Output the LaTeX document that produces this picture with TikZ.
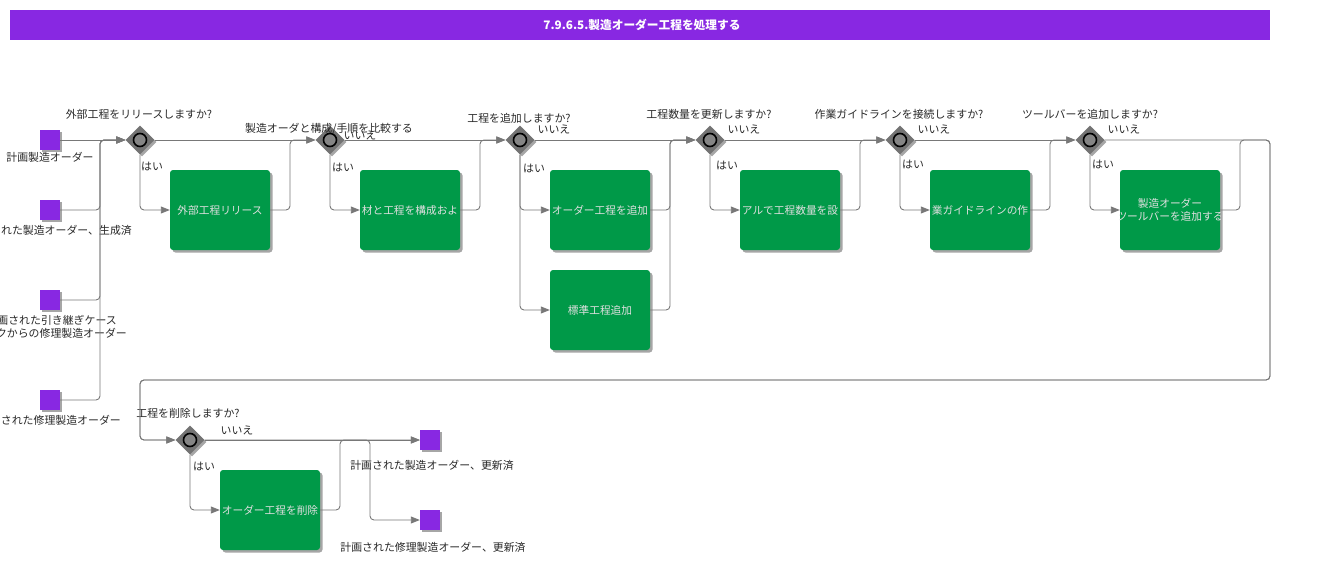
\documentclass[tikz,border=0pt]{standalone}
\usepackage{fontspec}
\setmainfont{Noto Sans CJK JP}
\usetikzlibrary{shapes.geometric,arrows.meta,shadows}
\definecolor{bpurple}{RGB}{136,40,226}
\definecolor{bgreen}{RGB}{0,153,72}
\definecolor{lgray}{RGB}{120,120,120}
\definecolor{dgray}{RGB}{115,115,115}
\definecolor{txt}{RGB}{40,40,40}
\begin{document}
\begin{tikzpicture}[x=1pt,y=-1pt,
  lbl/.style={font=\fontsize{10.9}{12.5}\selectfont, text=txt, inner sep=0pt},
  sq/.style={rectangle, fill=bpurple, minimum size=20pt, inner sep=0pt,
     drop shadow={shadow xshift=2pt, shadow yshift=-2pt, opacity=0.35, fill=black}},
  gw/.style={diamond, fill=dgray, minimum size=29pt, inner sep=0pt,
     drop shadow={shadow xshift=2pt, shadow yshift=-2pt, opacity=0.35, fill=black}},
  gwc/.style={circle, draw=black, line width=1.6pt, fill=lgray!90!white, minimum size=13pt, inner sep=0pt},
  task/.style={rectangle, rounded corners=3pt, fill=bgreen, minimum width=100pt, minimum height=80pt, inner sep=0pt,
     drop shadow={shadow xshift=2.5pt, shadow yshift=-2.5pt, opacity=0.35, fill=black}},
  tasktext/.style={font=\fontsize{10.7}{13}\selectfont, text=white!88!black, inner sep=0pt, align=center},
  conn/.style={draw=lgray, line width=0.9pt, rounded corners=4pt},
  flow/.style={conn, -{Triangle[length=9pt,width=7pt]}, color=lgray},
]
\useasboundingbox (0,0) rectangle (1320,565);

% title
\node[rectangle, fill=bpurple, minimum width=1260pt, minimum height=30pt, inner sep=0pt] (title) at (640,25) {};
\node[font=\fontsize{11.7}{13}\selectfont\bfseries, text=white, inner sep=0pt] (titletext) at (642,25) {7.9.6.5.製造オーダー工程を処理する};

% start events
\node[sq] (s1) at (50,140) {};
\node[sq] (s2) at (50,210) {};
\node[sq] (s3) at (50,300) {};
\node[sq] (s4) at (50,400) {};
\node[lbl] (l1) at (50,157) {計画製造オーダー};
\node[lbl, anchor=east] (l2) at (132,230) {れた製造オーダー、生成済};
\node[lbl, anchor=east] (l3a) at (117,320) {画された引き継ぎケース};
\node[lbl, anchor=east] (l3b) at (127,333) {クからの修理製造オーダー};
\node[lbl, anchor=east] (l4) at (121,420) {された修理製造オーダー};

% gateways
\foreach \n/\x/\y in {g1/140/140, g2/330/140, g3/520/140, g4/710/140, g5/900/140, g6/1090/140, g7/190/440}{
  \node[gw] (\n) at (\x,\y) {};
  \node[gwc] (\n c) at (\x,\y) {};
}

% gateway labels
\node[lbl] (q1) at (139,114) {外部工程をリリースしますか?};
\node[lbl] (q3) at (519,118) {工程を追加しますか?};
\node[lbl] (q4) at (709,114) {工程数量を更新しますか?};
\node[lbl] (q5) at (899,114) {作業ガイドラインを接続しますか?};
\node[lbl] (q6) at (1090,114) {ツールバーを追加しますか?};
\node[lbl] (q7) at (188,413) {工程を削除しますか?};

\node[lbl] (n2) at (360,135) {いいえ};
\node[lbl] (q2) at (329,129) {製造オーダと構成/手順を比較する};
\node[lbl] (n3) at (554,129) {いいえ};
\node[lbl] (n4) at (744,129) {いいえ};
\node[lbl] (n5) at (934,129) {いいえ};
\node[lbl] (n6) at (1124,129) {いいえ};
\node[lbl] (n7) at (237,430) {いいえ};

\node[lbl] (y1) at (152,166) {はい};
\node[lbl] (y2) at (343,167) {はい};
\node[lbl] (y3) at (534,168) {はい};
\node[lbl] (y4) at (727,165) {はい};
\node[lbl] (y5) at (913,164) {はい};
\node[lbl] (y6) at (1103,164) {はい};
\node[lbl] (y7) at (204,466) {はい};

% tasks
\node[task] (b1) at (220,210) {};
\node[task] (b2) at (410,210) {};
\node[task] (b3a) at (600,210) {};
\node[task] (b3b) at (600,310) {};
\node[task] (b4) at (790,210) {};
\node[task] (b5) at (980,210) {};
\node[task] (b6) at (1170,210) {};
\node[task] (b7) at (270,510) {};
\node[tasktext] (t1) at (b1) {外部工程リリース};
\node[tasktext] (t2) at (b2) {材と工程を構成およ};
\node[tasktext] (t3a) at (b3a) {オーダー工程を追加};
\node[tasktext] (t3b) at (b3b) {標準工程追加};
\node[tasktext] (t4) at (b4) {アルで工程数量を設};
\node[tasktext] (t5) at (b5) {業ガイドラインの作};
\begin{scope}
  \clip (b6.north west) rectangle (b6.south east);
  \node[tasktext] (t6) at (b6) {製造オーダー\\ツールバーを追加する};
\end{scope}
\node[tasktext] (t7) at (b7) {オーダー工程を削除};

% end events
\node[sq] (e1) at (430,440) {};
\node[sq] (e2) at (430,520) {};
\node[lbl] (le1) at (432,465) {計画された製造オーダー、更新済};
\node[lbl] (le2) at (433,547) {計画された修理製造オーダー、更新済};

% junction coordinates
\coordinate (j1) at (100,140);
\coordinate (j2) at (290,140);
\coordinate (j3) at (480,140);
\coordinate (j4) at (670,140);
\coordinate (j5) at (860,140);
\coordinate (j6) at (1050,140);
\coordinate (j7) at (1240,140);
\coordinate (c1) at (1270,140);
\coordinate (c2) at (1270,380);
\coordinate (c3) at (140,380);
\coordinate (j8) at (340,440);
\coordinate (j9) at (370,440);

% flows: start
\draw[flow] (s1) -- (g1);
\draw[flow] (s2.east) -| (j1) -- (g1.west);
\draw[flow] (s3.east) -| (j1) -- (g1.west);
\draw[flow] (s4.east) -| (j1) -- (g1.west);

% main line
\draw[flow] (g1.east) -- (g2.west);
\draw[flow] (g2.east) -- (g3.west);
\draw[flow] (g3.east) -- (g4.west);
\draw[flow] (g4.east) -- (g5.west);
\draw[flow] (g5.east) -- (g6.west);
\draw[flow] (g6.east) -- (c1) -- (c2) -- (c3) |- (g7.west);

% yes branches
\draw[flow] (g1.south) |- (b1.west);
\draw[flow] (g2.south) |- (b2.west);
\draw[flow] (g3.south) |- (b3a.west);
\draw[flow] (g3.south) |- (b3b.west);
\draw[flow] (g4.south) |- (b4.west);
\draw[flow] (g5.south) |- (b5.west);
\draw[flow] (g6.south) |- (b6.west);
\draw[flow] (g7.south) |- (b7.west);

% returns
\draw[flow] (b1.east) -| (j2) -- (g2.west);
\draw[flow] (b2.east) -| (j3) -- (g3.west);
\draw[flow] (b3a.east) -| (j4) -- (g4.west);
\draw[flow] (b3b.east) -| (j4) -- (g4.west);
\draw[flow] (b4.east) -| (j5) -- (g5.west);
\draw[flow] (b5.east) -| (j6) -- (g6.west);
\draw[flow] (b6.east) -| (j7) -- (c1) -- (c2) -- (c3) |- (g7.west);

% end
\draw[flow] (g7.east) -- (e1.west);
\draw[flow] (b7.east) -| (j8) -- (e1.west);
\draw[flow] (g7.east) -- (j9) |- (e2.west);
\end{tikzpicture}
\end{document}
